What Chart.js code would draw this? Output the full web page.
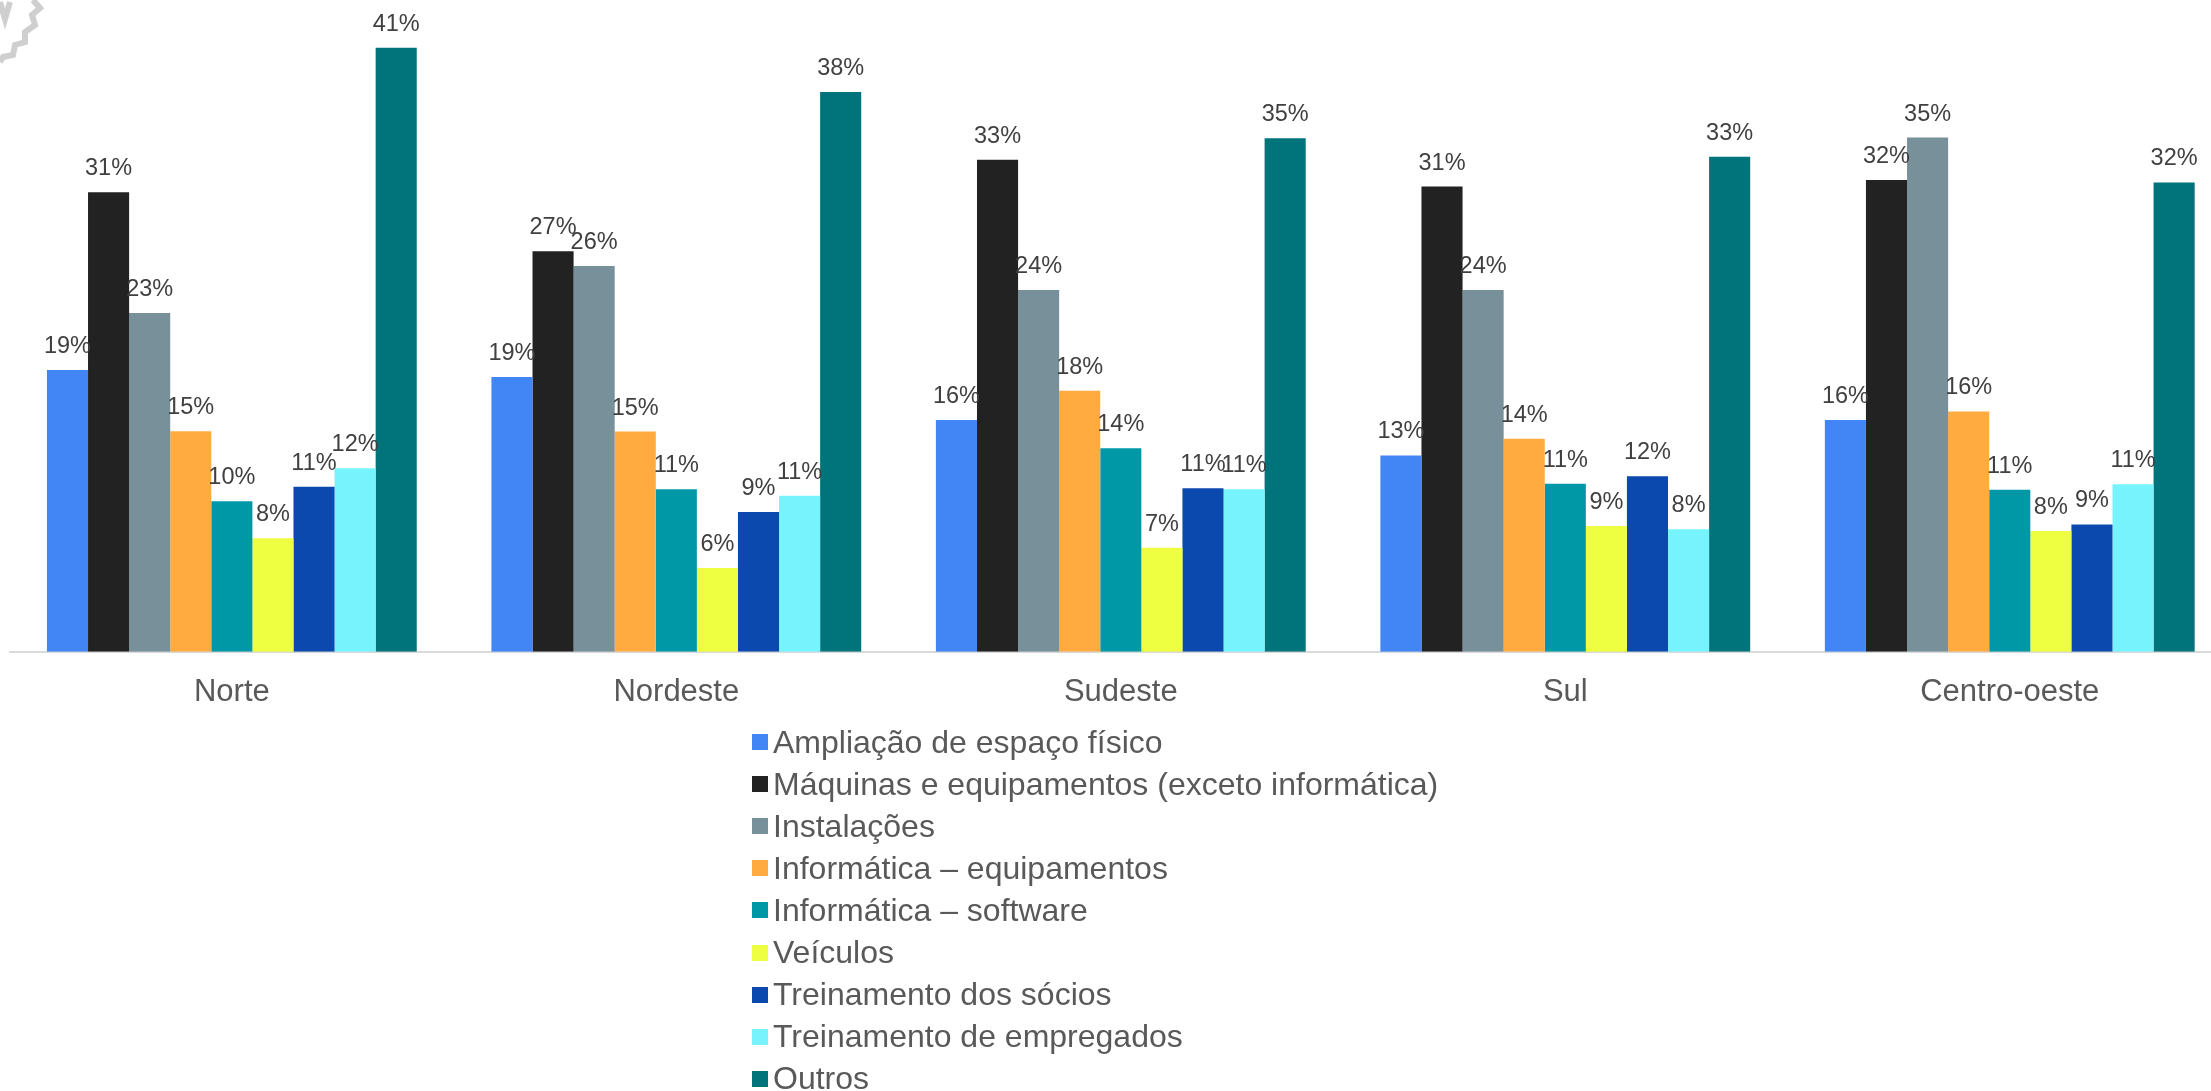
<!DOCTYPE html>
<html>
<head>
<meta charset="utf-8">
<script src="https://cdn.jsdelivr.net/npm/chart.js@4"></script>
<style>
  html, body { margin:0; padding:0; background:#ffffff; width:2211px; height:1091px; overflow:hidden; }
  #wrap { position:absolute; left:0; top:0; width:2240px; height:743px; }
  #legend { position:absolute; left:752px; top:721px; font-family:"Liberation Sans", Arial, sans-serif; font-size:32px; color:#595959; }
  .item { height:42.1px; display:flex; align-items:center; white-space:nowrap; }
  .box { width:16px; height:16px; margin-right:5px; flex:0 0 auto; }
  #gear { position:absolute; left:0; top:0; }
</style>
</head>
<body>
<svg id="gear" width="60" height="70" viewBox="0 0 60 70">
  <polyline points="33,0 40,8 32,15 35,25 25,32 25,42 15,45 13,55 3,57 0,62" fill="none" stroke="#cfcfcf" stroke-width="6" stroke-linejoin="miter"/>
  <polyline points="0,2 5,19 10,2" fill="none" stroke="#cfcfcf" stroke-width="6"/>
</svg>
<div id="wrap"><canvas id="c" width="2240" height="743"></canvas></div>
<div id="legend"></div>
<script>
const categories = ["Norte", "Nordeste", "Sudeste", "Sul", "Centro-oeste"];
const seriesNames = [
  "Ampliação de espaço físico",
  "Máquinas e equipamentos (exceto informática)",
  "Instalações",
  "Informática – equipamentos",
  "Informática – software",
  "Veículos",
  "Treinamento dos sócios",
  "Treinamento de empregados",
  "Outros"
];
const seriesColors = ["#4285F4", "#222222", "#78909A", "#FFAB40", "#0097A7", "#EEFF41", "#0B49AE", "#76F3FC", "#00737B"];

// values per series, in % (order: Norte, Nordeste, Sudeste, Sul, Centro-oeste)
const ampliacao   = [19.05, 18.58, 15.66, 13.27, 15.67];
const maquinas    = [31.06, 27.07, 33.26, 31.44, 31.88];
const instalacoes = [22.89, 26.08, 24.45, 24.45, 34.75];
const infoEquip   = [14.91, 14.88, 17.64, 14.39, 16.24];
const infoSoft    = [10.17, 10.99, 13.76, 11.35, 10.96];
const veiculos    = [7.68, 5.66, 7.03, 8.51, 8.17];
const treinSocios = [11.16, 9.44, 11.06, 11.87, 8.61];
const treinEmpr   = [12.40, 10.55, 10.99, 8.29, 11.32];
const outros      = [40.82, 37.83, 34.71, 33.45, 31.72];

const seriesValues = [ampliacao, maquinas, instalacoes, infoEquip, infoSoft, veiculos, treinSocios, treinEmpr, outros];

const datasets = seriesNames.map((name, i) => ({
  label: name,
  data: seriesValues[i],
  backgroundColor: seriesColors[i],
  borderWidth: 0,
  barPercentage: 1.0,
  categoryPercentage: 0.832
}));

const valueLabels = {
  id: 'valueLabels',
  afterDatasetsDraw(chart) {
    const ctx = chart.ctx;
    ctx.save();
    ctx.font = '23.5px "Liberation Sans", Arial, sans-serif';
    ctx.fillStyle = '#404040';
    ctx.textAlign = 'center';
    ctx.textBaseline = 'alphabetic';
    chart.data.datasets.forEach((ds, i) => {
      const meta = chart.getDatasetMeta(i);
      meta.data.forEach((bar, j) => {
        ctx.fillText(Math.round(ds.data[j]) + '%', bar.x, bar.y - 17);
      });
    });
    ctx.restore();
  }
};

const chart = new Chart(document.getElementById('c'), {
  type: 'bar',
  data: { labels: categories, datasets: datasets },
  options: {
    responsive: false,
    animation: false,
    devicePixelRatio: 1,
    layout: { padding: { left: 9.6, right: 8, top: 0, bottom: 10 } },
    plugins: { legend: { display: false }, tooltip: { enabled: false } },
    scales: {
      x: {
        grid: { display: true, color: 'rgba(0,0,0,0)', drawTicks: false },
        border: { display: true, color: '#D9D9D9', width: 2 },
        ticks: { color: '#595959', font: { family: '"Liberation Sans", Arial, sans-serif', size: 31 }, padding: 22, maxRotation: 0 }
      },
      y: { display: false, min: 0, max: 44.05 }
    }
  },
  plugins: [valueLabels]
});

const legendEl = document.getElementById('legend');
seriesNames.forEach((name, i) => {
  const row = document.createElement('div');
  row.className = 'item';
  const box = document.createElement('span');
  box.className = 'box';
  box.style.background = seriesColors[i];
  const txt = document.createElement('span');
  txt.textContent = name;
  row.appendChild(box);
  row.appendChild(txt);
  legendEl.appendChild(row);
});
</script>
</body>
</html>
